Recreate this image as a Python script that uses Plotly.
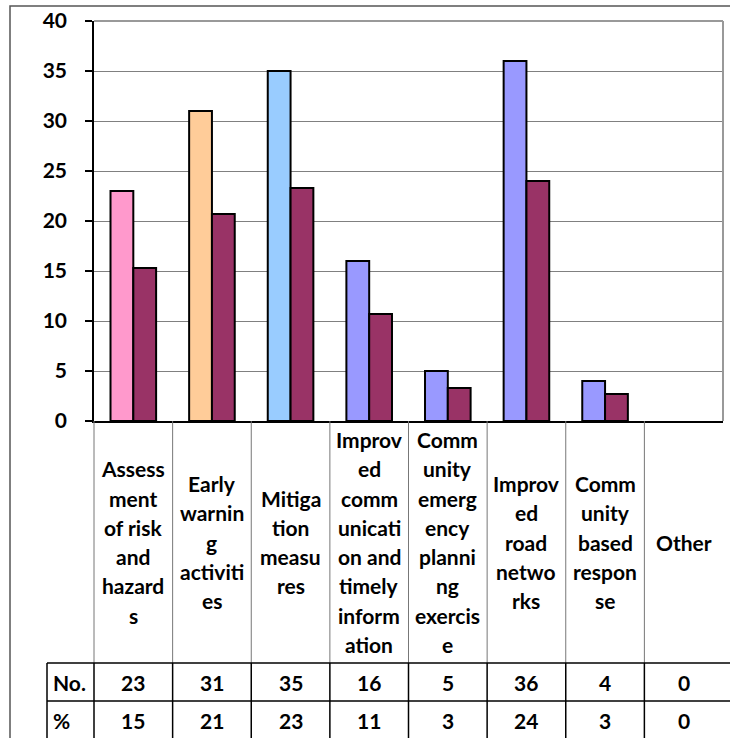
import plotly.graph_objects as go

categories = [
    "Assess<br>ment<br>of risk<br>and<br>hazard<br>s",
    "Early<br>warnin<br>g<br>activiti<br>es",
    "Mitiga<br>tion<br>measu<br>res",
    "Improv<br>ed<br>comm<br>unicati<br>on and<br>timely<br>inform<br>ation",
    "Comm<br>unity<br>emerg<br>ency<br>planni<br>ng<br>exercis<br>e",
    "Improv<br>ed<br>road<br>netwo<br>rks",
    "Comm<br>unity<br>based<br>respon<br>se",
    "Other",
]
counts = [23, 31, 35, 16, 5, 36, 4, 0]
percents = [15.3, 20.7, 23.3, 10.7, 3.3, 24, 2.7, 0]
count_colors = ["#FF99CC", "#FFCC99", "#99CCFF", "#9999FF", "#9999FF", "#9999FF", "#9999FF", "#9999FF"]
pct_color = "#993366"
row_names = ["No.", "%"]
yticks = [0, 5, 10, 15, 20, 25, 30, 35, 40]

W, H = 730, 738
L, R, T, B = 94, 723, 21, 421
FONT = "Lato"
FS = 21


def px(x):
    return (x - L) / (R - L)


def py(y):
    return (B - y) / (B - T)


xs = list(range(len(categories)))
fig = go.Figure()
fig.add_trace(go.Bar(x=xs, y=counts, name="No.",
                     marker=dict(color=count_colors,
                                 line=dict(color="black", width=[2 if v > 0 else 0 for v in counts]))))
fig.add_trace(go.Bar(x=xs, y=percents, name="%",
                     marker=dict(color=pct_color,
                                 line=dict(color="black", width=[2 if v > 0 else 0 for v in percents]))))

shapes = []
# outer frame
shapes.append(dict(type="rect", xref="paper", yref="paper", x0=px(10), x1=px(760),
                   y0=py(780), y1=py(6), line=dict(color="#555555", width=1.5), layer="below"))
# plot area border (top/right grey)
shapes.append(dict(type="line", xref="paper", yref="paper", x0=0, x1=1, y0=1, y1=1,
                   line=dict(color="#999999", width=2)))
shapes.append(dict(type="line", xref="paper", yref="paper", x0=1, x1=1, y0=0, y1=1,
                   line=dict(color="#999999", width=2)))

n = len(categories)
row_top = 663
row_mid = 701
# table grid: thin grey in the label row, black in the value rows
for i in range(n):
    xp = i / n
    shapes.append(dict(type="line", xref="paper", yref="paper", x0=xp, x1=xp,
                       y0=py(row_top), y1=0, line=dict(color="#777777", width=1)))
    shapes.append(dict(type="line", xref="paper", yref="paper", x0=xp, x1=xp,
                       y0=py(780), y1=py(row_top), line=dict(color="black", width=1.5)))
shapes.append(dict(type="line", xref="paper", yref="paper", x0=px(47), x1=px(47),
                   y0=py(780), y1=py(row_top), line=dict(color="black", width=1.5)))
for yy in [row_top, row_mid]:
    shapes.append(dict(type="line", xref="paper", yref="paper", x0=px(47), x1=px(760),
                       y0=py(yy), y1=py(yy), line=dict(color="black", width=1.5)))

annotations = []
label_center = (B + row_top) / 2
spacing = 29.3
for i, lab in enumerate(categories):
    lines = lab.split("<br>")
    for j, line in enumerate(lines):
        yc = label_center + (j - (len(lines) - 1) / 2) * spacing
        annotations.append(dict(x=(i + 0.5) / n, y=py(yc), xref="paper", yref="paper",
                                text=line, showarrow=False, xanchor="center", yanchor="middle",
                                font=dict(family=FONT, size=FS, color="black", weight="bold")))

row_centers = [(row_top + row_mid) / 2, row_mid + 19]
for name, yc in zip(row_names, row_centers):
    annotations.append(dict(x=px(51), y=py(yc), xref="paper", yref="paper", text=name,
                            showarrow=False, xanchor="left", yanchor="middle",
                            font=dict(family=FONT, size=FS, color="black", weight="bold")))
for vals, yc in [(counts, row_centers[0]), (percents, row_centers[1])]:
    for i, v in enumerate(vals):
        annotations.append(dict(x=(i + 0.5) / n, y=py(yc), xref="paper", yref="paper",
                                text="{:.0f}".format(v), showarrow=False,
                                xanchor="center", yanchor="middle",
                                font=dict(family=FONT, size=FS, color="black", weight="bold")))

fig.update_layout(
    width=W, height=H,
    margin=dict(l=L, r=W - R, t=T, b=H - B, pad=0),
    paper_bgcolor="white", plot_bgcolor="white",
    barmode="group", bargap=0.42, bargroupgap=0,
    showlegend=False,
    shapes=shapes, annotations=annotations,
    font=dict(family=FONT, size=FS, color="black"),
)
fig.update_xaxes(range=[-0.5, n - 0.5], showticklabels=False, showgrid=False,
                 showline=True, linecolor="black", linewidth=1.5, ticks="", zeroline=False)
fig.update_yaxes(range=[0, 40], tickvals=yticks, showgrid=True, gridcolor="#808080", gridwidth=1,
                 showline=True, linecolor="black", linewidth=1.5, ticks="outside", ticklen=7,
                 tickcolor="black", tickwidth=1.5, ticklabelstandoff=14, zeroline=False,
                 tickfont=dict(family=FONT, size=FS, color="black", weight="bold"))

# drop the default body margin so the figure sits at the page's top-left corner
fig.write_html("out.html", config={"displayModeBar": False},
               post_script="document.body.style.margin='0px';")
